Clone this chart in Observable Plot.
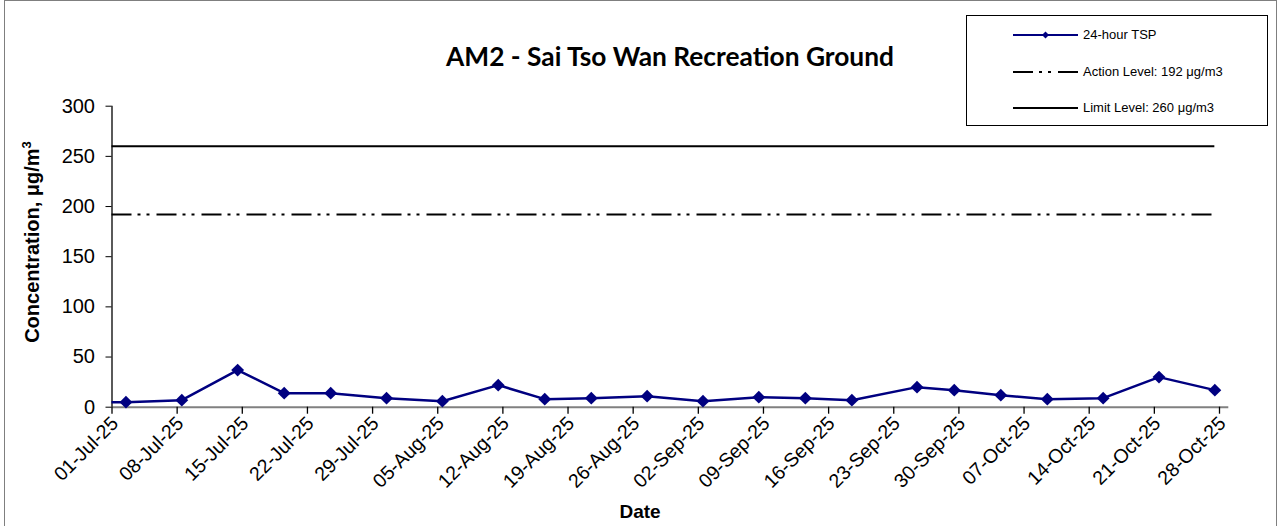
<!DOCTYPE html>
<html>
<head>
<meta charset="utf-8">
<script src="https://cdn.jsdelivr.net/npm/d3@7"></script>
<script src="https://cdn.jsdelivr.net/npm/@observablehq/plot@0.6"></script>
<style>
  body { margin: 0; background: #fff; }
  #wrap { position: relative; width: 1280px; height: 526px; overflow: hidden; font-family: Arial, "Liberation Sans", sans-serif; color: #000; background: #fff; }
  #frame { position: absolute; left: 4px; top: 0px; width: 1273px; height: 560px; border: 1px solid #7f7f7f; box-sizing: border-box; }
  #chart { position: absolute; left: 0; top: 0; }
  #title { position: absolute; left: 670px; top: 42px; transform: translateX(-50%); white-space: nowrap; font-family: Lato, "Open Sans", sans-serif; font-weight: bold; font-size: 26.3px; line-height: 28px; }
  #ylab { position: absolute; left: 32px; top: 242px; transform: translate(-50%, -50%) rotate(-90deg); white-space: nowrap; font-weight: bold; font-size: 20px; line-height: 22px; }
  #ylab sup { font-size: 13px; vertical-align: 8px; line-height: 0; }
  #xlab { position: absolute; left: 640px; top: 501px; transform: translateX(-50%); font-weight: bold; font-size: 19px; line-height: 22px; }
  #legend { position: absolute; left: 966px; top: 15px; width: 302px; height: 111px; border: 1px solid #000; box-sizing: border-box; background: #fff; }
  #legend svg { position: absolute; left: 0; top: 0; }
  .lt { position: absolute; left: 116px; font-size: 13px; line-height: 16px; white-space: nowrap; }
</style>
</head>
<body>
<div id="wrap">
  <div id="frame"></div>
  <div id="chart"></div>
  <div id="title"></div>
  <div id="ylab">Concentration, μg/m<sup>3</sup></div>
  <div id="xlab">Date</div>
  <div id="legend"></div>
</div>
<script>
// ---- data ----
const titleText = "AM2 - Sai Tso Wan Recreation Ground";
const sampleDates = ["2025-06-30", "2025-07-02", "2025-07-08", "2025-07-14", "2025-07-19", "2025-07-24", "2025-07-30",
  "2025-08-05", "2025-08-11", "2025-08-16", "2025-08-21", "2025-08-27", "2025-09-02", "2025-09-08",
  "2025-09-13", "2025-09-18", "2025-09-25", "2025-09-29", "2025-10-04", "2025-10-09", "2025-10-15",
  "2025-10-21", "2025-10-27"];
const tspValues = [5, 5, 7, 37, 14, 14, 9, 6, 22, 8, 9, 11, 6, 10, 9, 7, 20, 17, 12, 8, 9, 30, 17];
const tickDates = ["2025-07-01", "2025-07-08", "2025-07-15", "2025-07-22", "2025-07-29", "2025-08-05",
  "2025-08-12", "2025-08-19", "2025-08-26", "2025-09-02", "2025-09-09", "2025-09-16", "2025-09-23",
  "2025-09-30", "2025-10-07", "2025-10-14", "2025-10-21", "2025-10-28"];
const yTicks = [0, 50, 100, 150, 200, 250, 300];
const actionLevel = 192;
const limitLevel = 260;
const seriesNames = ["24-hour TSP", "Action Level: 192 μg/m3", "Limit Level: 260 μg/m3"];
const axisStart = "2025-07-01";
const axisEnd = "2025-10-29";

// ---- build ----
const parse = d3.utcParse("%Y-%m-%d");
const mid = s => d3.utcHour.offset(parse(s), 12);
const xDomain = [parse(axisStart), parse(axisEnd)];
const data = sampleDates.map((d, i) => ({date: mid(d), value: tspValues[i]}));
const shown = data.filter(d => d.date >= xDomain[0]);
const lastDate = data[data.length - 1].date;
const levels = [
  {y: limitLevel, x1: xDomain[0], x2: lastDate},
  {y: actionLevel, x1: xDomain[0], x2: lastDate}
];
const navy = "#000080";
const xTicks = tickDates.map(parse);

const chart = Plot.plot({
  width: 1280,
  height: 526,
  marginLeft: 111.5,
  marginRight: 51.7,
  marginTop: 105.7,
  marginBottom: 119.3,
  x: {type: "utc", domain: xDomain},
  y: {domain: [0, 300]},
  style: {fontFamily: "Arial, 'Liberation Sans', sans-serif", color: "#000", background: "transparent", overflow: "visible"},
  marks: [
    Plot.ruleY([{y: 0, x1: xDomain[0], x2: xDomain[1]}], {y: "y", x1: "x1", x2: "x2", stroke: "#808080", strokeWidth: 2}),
    Plot.axisY({ticks: yTicks, tickSize: 6, tickPadding: 11, fontSize: 20, label: null, tickFormat: d => String(d)}),
    Plot.ruleX([{x: xDomain[0], y1: 0, y2: 300}], {x: "x", y1: "y1", y2: "y2", stroke: "#000", strokeWidth: 1.3}),
    Plot.axisX({ticks: xTicks, tickSize: 7, strokeWidth: 1.3, tickFormat: () => "", label: null}),
    Plot.axisX({ticks: xTicks, tickSize: 0, tickPadding: 13, tickRotate: -45, fontSize: 19.5, dx: 3,
      tickFormat: d3.utcFormat("%d-%b-%y"), label: null}),
    Plot.ruleY(levels.slice(0, 1), {y: "y", x1: "x1", x2: "x2", stroke: "#000", strokeWidth: 2}),
    Plot.ruleY(levels.slice(1), {y: "y", x1: "x1", x2: "x2", stroke: "#000", strokeWidth: 2, strokeDasharray: "20,6,3,6,3,7"}),
    Plot.line(data, {x: "date", y: "value", stroke: navy, strokeWidth: 2.5, clip: true}),
    Plot.dot(shown, {x: "date", y: "value", symbol: "diamond2", r: 5.8, fill: navy, stroke: "none"})
  ]
});
document.getElementById("chart").appendChild(chart);
document.getElementById("title").textContent = titleText;

// ---- legend ----
const lg = d3.select("#legend");
const rowsY = [19, 56, 92];
const svg = lg.append("svg").attr("width", 300).attr("height", 109);
const x0 = 46, x1 = 111;
svg.append("line").attr("x1", x0).attr("x2", x1).attr("y1", rowsY[0]).attr("y2", rowsY[0]).attr("stroke", navy).attr("stroke-width", 2);
svg.append("path").attr("d", d3.symbol(d3.symbolDiamond2, 32)()).attr("transform", `translate(${(x0 + x1) / 2},${rowsY[0]})`).attr("fill", navy);
svg.append("line").attr("x1", x0).attr("x2", x1).attr("y1", rowsY[1]).attr("y2", rowsY[1]).attr("stroke", "#000").attr("stroke-width", 2).attr("stroke-dasharray", "20,6,3,6,3,7");
svg.append("line").attr("x1", x0).attr("x2", x1).attr("y1", rowsY[2]).attr("y2", rowsY[2]).attr("stroke", "#000").attr("stroke-width", 2);
seriesNames.forEach((n, i) => {
  lg.append("div").attr("class", "lt").style("top", (rowsY[i] - 8) + "px").text(n);
});
</script>
</body>
</html>
